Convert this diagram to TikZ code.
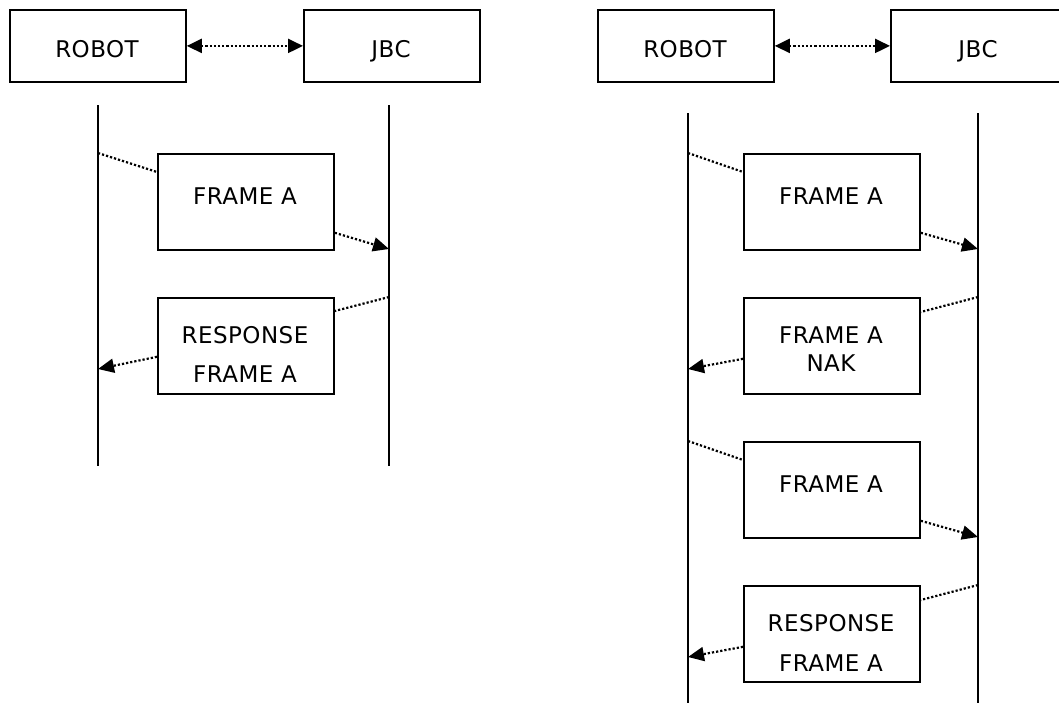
\documentclass[tikz,border=0pt]{standalone}
\usepackage{fontspec}
\setmainfont{DejaVu Sans}[LetterSpace=2]
\usetikzlibrary{arrows.meta,calc}

\tikzset{
  party/.style={draw, line width=1.8pt, minimum width=176pt, minimum height=72pt,
    inner sep=0pt, anchor=north west},
  framebox/.style={draw, line width=1.8pt, minimum width=176pt, minimum height=96pt,
    inner sep=0pt, anchor=north west},
  txt/.style={inner sep=0pt, anchor=base, font=\fontsize{23}{28}\selectfont},
  life/.style={line width=1.8pt},
  msg/.style={line width=2.2pt, dash pattern=on 2.2pt off 2pt},
  tip/.style={-{Triangle[length=16pt,width=14pt]}},
  bitip/.style={{Triangle[length=15pt,width=14pt]}-{Triangle[length=15pt,width=14pt]}},
}

\begin{document}
\begin{tikzpicture}[x=1pt, y=-1pt]
\clip (0,0) rectangle (1059,702);
\fill[white] (0,0) rectangle (1059,702);

% ---------------- left exchange: plain request / response ----------------
\node[party] (robotL) at (9,9) {};
\node[party] (jbcL) at (303,9) {};
\node[txt] (robotLt) at (97,57) {ROBOT};
\node[txt] (jbcLt) at (391,57) {JBC};
\draw[msg, bitip] (robotL.east) -- (jbcL.west);

\coordinate (rLtop) at (98,105);
\coordinate (rLbot) at (98,466);
\coordinate (jLtop) at (389,105);
\coordinate (jLbot) at (389,466);
\draw[life] (rLtop) -- (rLbot);
\draw[life] (jLtop) -- (jLbot);

\node[framebox] (fL1) at (157,153) {};
\node[txt] at (245,204) {FRAME A};
\node[framebox] (fL2) at (157,297) {};
\node[txt] at (245,343) {RESPONSE};
\node[txt] at (245,382) {FRAME A};

\coordinate (rL1) at (98,153);
\coordinate (jL1) at (389,249);
\coordinate (jL2) at (389,297);
\coordinate (rL2) at (98,369);
\draw[msg] (rL1) -- ($(fL1.north west)+(0,19)$);
\draw[msg, tip] ($(fL1.south east)+(0,-18)$) -- (jL1);
\draw[msg] (jL2) -- ($(fL2.north east)+(0,14)$);
\draw[msg, tip] ($(fL2.south west)+(0,-38)$) -- (rL2);

% ---------------- right exchange: NAK then retransmission ----------------
\node[party] (robotR) at (597,9) {};
\node[party] (jbcR) at (890,9) {};
\node[txt] (robotRt) at (685,57) {ROBOT};
\node[txt] (jbcRt) at (978,57) {JBC};
\draw[msg, bitip] (robotR.east) -- (jbcR.west);

\coordinate (rRtop) at (688,113);
\coordinate (rRbot) at (688,710);
\coordinate (jRtop) at (978,113);
\coordinate (jRbot) at (978,710);
\draw[life] (rRtop) -- (rRbot);
\draw[life] (jRtop) -- (jRbot);

\node[framebox] (fR1) at (743,153) {};
\node[txt] at (831,204) {FRAME A};
\node[framebox] (fR2) at (743,297) {};
\node[txt] at (831,343) {FRAME A};
\node[txt] at (831,371) {NAK};
\node[framebox] (fR3) at (743,441) {};
\node[txt] at (831,492) {FRAME A};
\node[framebox] (fR4) at (743,585) {};
\node[txt] at (831,631) {RESPONSE};
\node[txt] at (831,671) {FRAME A};

\coordinate (rR1) at (688,153);
\coordinate (jR1) at (978,249);
\coordinate (jR2) at (978,297);
\coordinate (rR2) at (688,369);
\coordinate (rR3) at (688,441);
\coordinate (jR3) at (978,537);
\coordinate (jR4) at (978,585);
\coordinate (rR4) at (688,657);
\draw[msg] (rR1) -- ($(fR1.north west)+(0,19)$);
\draw[msg, tip] ($(fR1.south east)+(0,-18)$) -- (jR1);
\draw[msg] (jR2) -- ($(fR2.north east)+(0,15)$);
\draw[msg, tip] ($(fR2.south west)+(0,-36)$) -- (rR2);
\draw[msg] (rR3) -- ($(fR3.north west)+(0,19)$);
\draw[msg, tip] ($(fR3.south east)+(0,-18)$) -- (jR3);
\draw[msg] (jR4) -- ($(fR4.north east)+(0,15)$);
\draw[msg, tip] ($(fR4.south west)+(0,-36)$) -- (rR4);
\end{tikzpicture}
\end{document}
